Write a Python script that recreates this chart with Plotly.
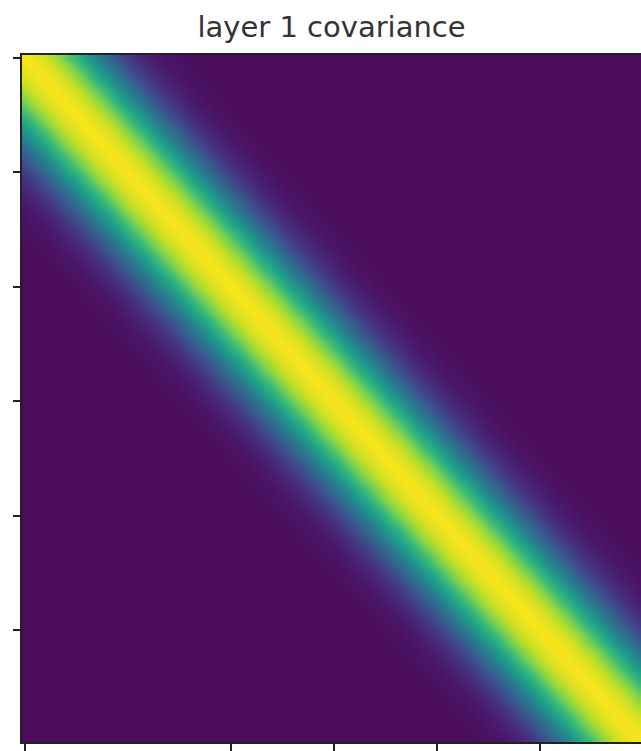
import plotly.graph_objects as go

# Covariance: value as a function of the distance |i - j|
# between the row index and the column index (0 .. 34), zero beyond.
band_profile = [1.00, 0.996, 0.98, 0.96, 0.94, 0.90, 0.86, 0.82, 0.77, 0.71,
                0.66, 0.61, 0.55, 0.50, 0.44, 0.39, 0.34, 0.30, 0.25, 0.22,
                0.18, 0.15, 0.12, 0.10, 0.08, 0.06, 0.05, 0.04, 0.03, 0.02,
                0.02, 0.01, 0.01, 0.005, 0.0]
n_points = 120
x_tick_values = [0, 40, 60, 80, 100]
y_tick_values = [0, 20, 40, 60, 80, 100]
title_text = "layer 1 covariance"

z = []
for i in range(n_points):
    row = []
    for j in range(n_points):
        d = abs(i - j)
        row.append(band_profile[d] if d < len(band_profile) else 0.0)
    z.append(row)

colorscale = [
    [0.0, "#4a0c5b"], [0.111, "#482878"], [0.222, "#3e4989"],
    [0.333, "#31688e"], [0.444, "#26828e"], [0.556, "#1f9e89"],
    [0.667, "#35b779"], [0.778, "#6ece58"], [0.889, "#b5de2b"],
    [1.0, "#f5e41c"],
]

fig = go.Figure(go.Heatmap(
    z=z,
    colorscale=colorscale,
    zmin=0, zmax=1,
    showscale=False,
    zsmooth="best",
    hoverinfo="skip",
))

fig.update_layout(
    width=641, height=751,
    margin=dict(l=22, r=0, t=55, b=9, autoexpand=False),
    paper_bgcolor="white",
    plot_bgcolor="white",
    title=dict(text=title_text, x=(22 + 641) / 2 / 641, xanchor="center",
               xref="container",
               y=1 - 27 / 751, yanchor="middle", yref="container",
               font=dict(family="DejaVu Sans", size=29, color="#333333")),
)
fig.update_xaxes(range=[-0.5, n_points - 0.5], tickvals=x_tick_values,
                 showticklabels=False, ticks="outside", ticklen=7, tickwidth=2,
                 tickcolor="#222222", showline=True, linecolor="#222222",
                 linewidth=2, mirror=True, showgrid=False, zeroline=False,
                 automargin=False)
fig.update_yaxes(range=[n_points - 0.5, -0.5], tickvals=y_tick_values,
                 showticklabels=False, ticks="outside", ticklen=7, tickwidth=2,
                 tickcolor="#222222", showline=True, linecolor="#222222",
                 linewidth=2, mirror=False, showgrid=False, zeroline=False,
                 automargin=False)

fig.write_html(
    "out.html",
    config={"displayModeBar": False},
    post_script="document.body.style.margin='0';"
                "document.body.style.overflow='hidden';",
)
